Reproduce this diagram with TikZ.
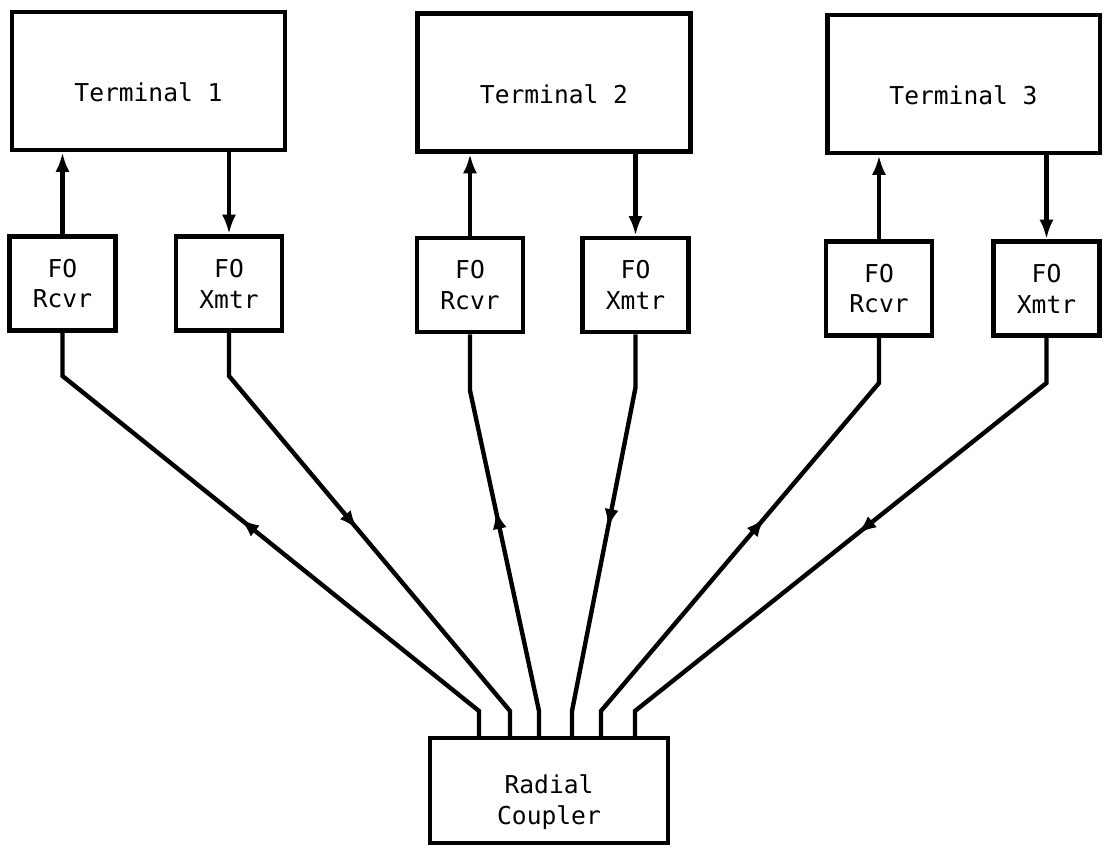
\documentclass[tikz,border=0pt]{standalone}
\usepackage{fontspec}
\newfontfamily\typer{DejaVu Sans Mono}
\usetikzlibrary{arrows.meta,decorations.markings}

\begin{document}
\begin{tikzpicture}[x=0.02cm,y=-0.02cm,
    box/.style={draw,line width=2.8pt,align=center,inner sep=0pt,font=\typer\fontsize{14}{17.5}\selectfont},
    term/.style={box,minimum width=5.46cm,minimum height=2.76cm},
    fo/.style={box,minimum width=2.12cm,minimum height=1.88cm},
    lbl/.style={font=\typer\fontsize{14}{17.5}\selectfont,align=center,yshift=-6.5pt},
    feed/.style={line width=2.5pt,-{Latex[length=11pt,width=8pt]}},
    fibre/.style={line width=2.5pt,postaction={decorate}},
    rx/.style={fibre,decoration={markings,mark=at position .48 with {\arrow{Latex[length=11pt,width=8pt,reversed]}}}},
    tx/.style={fibre,decoration={markings,mark=at position .48 with {\arrow{Latex[length=11pt,width=8pt]}}}}]
\useasboundingbox (0,0) rectangle (1104,848);
% terminals
\node[term,label={[lbl]center:Terminal 1}] (t1) at (148.5,81) {};
\node[term,label={[lbl]center:Terminal 2}] (t2) at (554,82.5) {};
\node[term,label={[lbl]center:Terminal 3}] (t3) at (963.5,84) {};
% receivers and transmitters
\node[fo] (r1) at (62.5,283.5) {FO\\Rcvr};
\node[fo] (x1) at (229,283.5) {FO\\Xmtr};
\node[fo] (r2) at (470,285) {FO\\Rcvr};
\node[fo] (x2) at (635.5,285) {FO\\Xmtr};
\node[fo] (r3) at (879,288.5) {FO\\Rcvr};
\node[fo] (x3) at (1046.5,288.5) {FO\\Xmtr};
% coupler
\node[box,minimum width=4.76cm,minimum height=2.1cm,label={[lbl]center:Radial\\Coupler}] (rc) at (549,790.5) {};
\foreach \n/\x in {1/479,2/510,3/539,4/572,5/601,6/635}{
    \coordinate (c\n) at (\x,738);
    \coordinate (b\n) at (\x,711);
}
\foreach \i in {1,2,3}{
    \draw[feed] (r\i.north) -- (r\i.north |- t\i.south);
    \draw[feed] (t\i.south -| x\i.north) -- (x\i.north);
}
% fibres to the coupler
\draw[rx] (r1.south) -- ++(0,43) -- (b1) -- (c1);
\draw[tx] (x1.south) -- ++(0,43) -- (b2) -- (c2);
\draw[rx] (r2.south) -- ++(0,56) -- (b3) -- (c3);
\draw[tx] (x2.south) -- ++(0,53) -- (b4) -- (c4);
\draw[rx] (r3.south) -- ++(0,45) -- (b5) -- (c5);
\draw[tx] (x3.south) -- ++(0,45) -- (b6) -- (c6);
\end{tikzpicture}
\end{document}
